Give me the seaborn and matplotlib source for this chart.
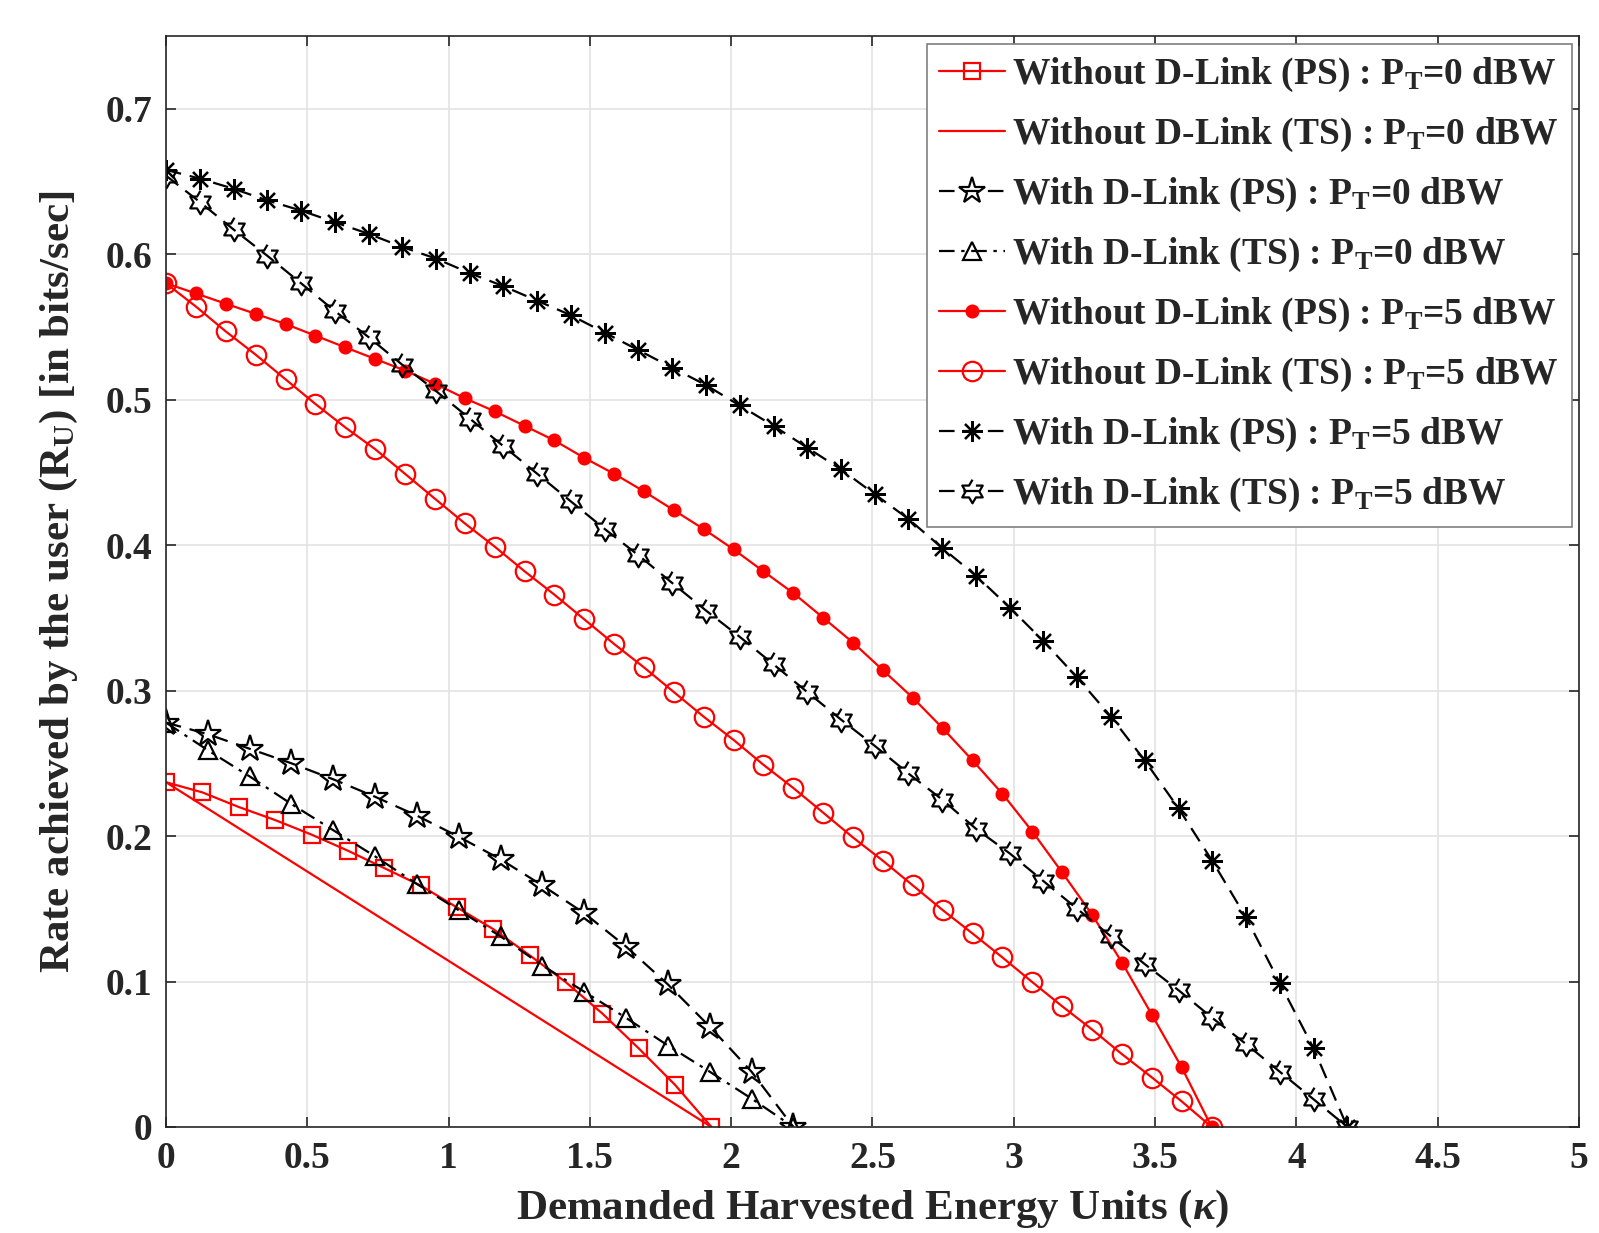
"""
Rate achieved by the user vs demanded harvested energy, with/without D-Link,
PS and TS receivers, at P_T = 0 dBW and 5 dBW.
"""
import matplotlib

matplotlib.use("Agg")
import matplotlib.pyplot as plt  # noqa: E402
import numpy as np  # noqa: E402
import seaborn as sns  # noqa: E402

# ---- data ----
# P_T = 0 dBW, without D-Link (PS): red squares
x_wo_ps_0 = [0, 0.129, 0.257, 0.386, 0.515, 0.643, 0.772, 0.901, 1.029, 1.158,
             1.287, 1.415, 1.544, 1.673, 1.801, 1.930]
y_wo_ps_0 = [0.237, 0.230, 0.220, 0.211, 0.201, 0.190, 0.178, 0.166, 0.151, 0.136,
             0.118, 0.0995, 0.078, 0.054, 0.029, 0.0]

# P_T = 0 dBW, without D-Link (TS): plain red line
x_wo_ts_0 = [0, 1.930]
y_wo_ts_0 = [0.237, 0.0]

# P_T = 0 dBW, with D-Link (PS) and (TS)
x_w_0 = [0, 0.148, 0.296, 0.444, 0.592, 0.740, 0.888, 1.036, 1.184, 1.332,
         1.480, 1.628, 1.776, 1.924, 2.072, 2.220]
y_w_ps_0 = [0.278, 0.270, 0.260, 0.250, 0.239, 0.227, 0.214, 0.1995, 0.184, 0.166,
            0.147, 0.124, 0.098, 0.069, 0.038, 0.0]
y_w_ts_0 = [0.278, 0.259, 0.241, 0.222, 0.204, 0.186, 0.167, 0.149, 0.131, 0.111,
            0.093, 0.075, 0.056, 0.038, 0.0195, 0.0]

# P_T = 5 dBW, without D-Link (PS) and (TS)
x_wo_5 = [0, 0.106, 0.211, 0.317, 0.423, 0.529, 0.634, 0.740, 0.846, 0.951,
          1.057, 1.163, 1.269, 1.374, 1.480, 1.586, 1.691, 1.797, 1.903, 2.009,
          2.114, 2.220, 2.326, 2.431, 2.537, 2.643, 2.749, 2.854, 2.960, 3.066,
          3.171, 3.277, 3.383, 3.489, 3.594, 3.700]
y_wo_ps_5 = [0.580, 0.573, 0.566, 0.559, 0.552, 0.544, 0.536, 0.528, 0.520, 0.511,
             0.501, 0.492, 0.482, 0.472, 0.460, 0.449, 0.437, 0.424, 0.411, 0.397,
             0.382, 0.367, 0.350, 0.333, 0.314, 0.295, 0.274, 0.252, 0.229, 0.203,
             0.175, 0.146, 0.113, 0.077, 0.041, 0.0]
y_wo_ts_5 = [0.580, 0.564, 0.547, 0.531, 0.514, 0.497, 0.481, 0.466, 0.449, 0.432,
             0.415, 0.399, 0.382, 0.366, 0.349, 0.332, 0.316, 0.299, 0.282, 0.266,
             0.249, 0.233, 0.216, 0.199, 0.183, 0.166, 0.149, 0.133, 0.1165, 0.0995,
             0.083, 0.067, 0.050, 0.034, 0.0176, 0.0]

# P_T = 5 dBW, with D-Link (PS) and (TS)
x_w_5 = [0, 0.119, 0.239, 0.358, 0.478, 0.597, 0.717, 0.836, 0.955, 1.075,
         1.194, 1.314, 1.433, 1.553, 1.672, 1.791, 1.911, 2.030, 2.150, 2.269,
         2.389, 2.508, 2.627, 2.747, 2.866, 2.986, 3.105, 3.224, 3.344, 3.463,
         3.583, 3.702, 3.822, 3.941, 4.061, 4.180]
y_w_ps_5 = [0.658, 0.652, 0.645, 0.637, 0.630, 0.622, 0.614, 0.605, 0.597, 0.587,
            0.578, 0.568, 0.558, 0.546, 0.534, 0.522, 0.510, 0.496, 0.482, 0.467,
            0.452, 0.435, 0.418, 0.398, 0.379, 0.357, 0.334, 0.309, 0.282, 0.252,
            0.219, 0.183, 0.144, 0.099, 0.054, 0.0]
y_w_ts_5 = [0.654, 0.636, 0.617, 0.599, 0.580, 0.561, 0.543, 0.524, 0.506, 0.487,
            0.468, 0.449, 0.430, 0.411, 0.393, 0.374, 0.355, 0.337, 0.318, 0.299,
            0.280, 0.262, 0.243, 0.225, 0.205, 0.188, 0.169, 0.150, 0.131, 0.112,
            0.094, 0.075, 0.057, 0.038, 0.019, 0.0]

x_ticks = [0, 0.5, 1, 1.5, 2, 2.5, 3, 3.5, 4, 4.5, 5]
x_tick_labels = ["0", "0.5", "1", "1.5", "2", "2.5", "3", "3.5", "4", "4.5", "5"]
y_ticks = [0, 0.1, 0.2, 0.3, 0.4, 0.5, 0.6, 0.7]
y_tick_labels = ["0", "0.1", "0.2", "0.3", "0.4", "0.5", "0.6", "0.7"]

FONT = "Liberation Serif"
FS = 27        # ticks and legend
FS_LABEL = 31  # axis labels

sns.set_theme(style="whitegrid")
plt.rcParams.update({
    "font.family": [FONT, "DejaVu Serif"],
    "font.weight": "bold",
    "mathtext.fontset": "custom",
    "mathtext.rm": f"{FONT}:bold",
    "mathtext.bf": f"{FONT}:bold",
    "mathtext.it": f"{FONT}:italic:bold",
    "axes.edgecolor": "#262626",
    "axes.linewidth": 1.2,
    "grid.color": "#e3e3e3",
    "grid.linewidth": 1.2,
    "xtick.direction": "in",
    "ytick.direction": "in",
})

# hexagram marker (MATLAB 'h')
ang = np.deg2rad(np.arange(12) * 30 + 90)
rad = np.where(np.arange(12) % 2 == 0, 1.0, 0.58)
HEXAGRAM = list(zip(rad * np.cos(ang), rad * np.sin(ang)))


def leg(label, p):
    return rf"{label} : P$_{{\mathrm{{T}}}}$={p} dBW"


fig = plt.figure(figsize=(15.99, 12.33), dpi=100)
ax = fig.add_axes([0.1038, 0.086, 0.8837, 0.8848])

lw = 1.6
mw = 1.6
series = [
    (x_wo_ps_0, y_wo_ps_0, leg("Without D-Link (PS)", 0),
     dict(color="red", ls="-", marker="s", ms=11, mfc="none", mec="red")),
    (x_wo_ts_0, y_wo_ts_0, leg("Without D-Link (TS)", 0),
     dict(color="red", ls="-")),
    (x_w_0, y_w_ps_0, leg("With D-Link (PS)", 0),
     dict(color="black", ls=(0, (7, 4)), marker="*", ms=20, mfc="none", mec="black")),
    (x_w_0, y_w_ts_0, leg("With D-Link (TS)", 0),
     dict(color="black", ls=(0, (7, 3, 1.5, 3)), marker="^", ms=13, mfc="none",
          mec="black")),
    (x_wo_5, y_wo_ps_5, leg("Without D-Link (PS)", 5),
     dict(color="red", ls="-", marker="o", ms=8.5, mfc="red", mec="red")),
    (x_wo_5, y_wo_ts_5, leg("Without D-Link (TS)", 5),
     dict(color="red", ls="-", marker="o", ms=14, mfc="none", mec="red")),
    (x_w_5, y_w_ps_5, leg("With D-Link (PS)", 5),
     dict(color="black", ls=(0, (7, 4)), marker=(8, 2, 0), ms=15, mec="black")),
    (x_w_5, y_w_ts_5, leg("With D-Link (TS)", 5),
     dict(color="black", ls=(0, (7, 4)), marker=HEXAGRAM, ms=17, mfc="none",
          mec="black")),
]

for xs, ys, label, style in series:
    sns.lineplot(x=xs, y=ys, ax=ax, sort=False, estimator=None, label=label,
                 lw=lw, mew=mw, **style)

ax.set_xlim(0, 5)
ax.set_ylim(0, 0.75)
ax.set_xticks(x_ticks)
ax.set_xticklabels(x_tick_labels)
ax.set_yticks(y_ticks)
ax.set_yticklabels(y_tick_labels)
ax.tick_params(labelsize=FS, length=7, width=1.2, pad=10, colors="#262626",
               top=True, right=True, bottom=True, left=True)
for lab in ax.get_xticklabels() + ax.get_yticklabels():
    lab.set_fontweight("bold")
ax.grid(True)
for s in ax.spines.values():
    s.set_visible(True)

ax.set_xlabel(r"Demanded Harvested Energy Units ($\kappa$)", fontsize=FS_LABEL,
              fontweight="bold", color="#262626", labelpad=9)
ax.set_ylabel(r"Rate achieved by the user (R$_{\mathrm{U}}$) [in bits/sec]",
              fontsize=FS_LABEL, fontweight="bold", color="#262626", labelpad=18)

lg = ax.legend(loc="upper right", fontsize=FS, frameon=True, fancybox=False,
               framealpha=1, edgecolor="#7f7f7f", handlelength=1.75,
               labelspacing=0.58, borderaxespad=0.2, handletextpad=0.2,
               borderpad=0.33)
lg.get_frame().set_linewidth(1.2)
for t in lg.get_texts():
    t.set_fontweight("bold")

fig.savefig("out.png", dpi=100)
